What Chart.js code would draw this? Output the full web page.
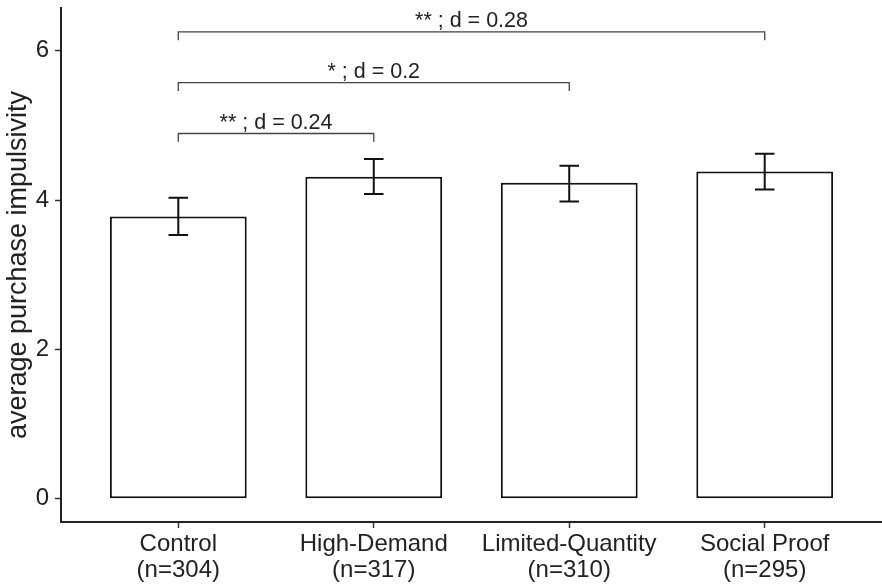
<!DOCTYPE html>
<html>
<head>
<meta charset="utf-8">
<script src="https://cdn.jsdelivr.net/npm/chart.js@4.4.1/dist/chart.umd.min.js"></script>
<style>
  html, body { margin: 0; padding: 0; background: #fff; }
  #wrap { width: 882px; height: 586px; position: relative; }
</style>
</head>
<body>
<div id="wrap"><canvas id="c"></canvas></div>
<script>
// groups and sample sizes
const groups = ['Control', 'High-Demand', 'Limited-Quantity', 'Social Proof'];
const groupN = ['(n=304)', '(n=317)', '(n=310)', '(n=295)'];
const groupPos = [1, 2, 3, 4];

// mean impulsivity and error bar ends
const means = [3.78, 4.31, 4.23, 4.38];
const errLow = [3.53, 4.08, 3.98, 4.14];
const errHigh = [4.03, 4.55, 4.46, 4.62];

const yTicks = [0, 2, 4, 6];

// significance brackets (all against Control)
const bracketFrom = [1, 1, 1];
const bracketTo = [4, 3, 2];
const bracketY = [6.25, 5.57, 4.89];
const bracketText = ['** ; d = 0.28', '* ; d = 0.2', '** ; d = 0.24'];

const FONT = "'Liberation Sans', Arial, Helvetica, sans-serif";

// error bars + brackets drawn through the chart scales
const annotPlugin = {
  id: 'annot',
  afterDatasetsDraw: function(chart) {
    const ctx = chart.ctx;
    const xs = chart.scales.x, ys = chart.scales.y;
    ctx.save();

    // error bars
    ctx.strokeStyle = '#111';
    ctx.lineWidth = 2;
    groupPos.forEach(function(p, i) {
      const x = xs.getPixelForValue(p);
      const xl = xs.getPixelForValue(p - 0.05), xr = xs.getPixelForValue(p + 0.05);
      const yl = ys.getPixelForValue(errLow[i]), yh = ys.getPixelForValue(errHigh[i]);
      ctx.beginPath();
      ctx.moveTo(x, yl); ctx.lineTo(x, yh);
      ctx.moveTo(xl, yl); ctx.lineTo(xr, yl);
      ctx.moveTo(xl, yh); ctx.lineTo(xr, yh);
      ctx.stroke();
    });

    // brackets
    ctx.strokeStyle = '#444';
    ctx.lineWidth = 1.3;
    ctx.fillStyle = '#222';
    ctx.font = '21.5px ' + FONT;
    ctx.textAlign = 'center';
    ctx.textBaseline = 'alphabetic';
    bracketY.forEach(function(b, i) {
      const x1 = xs.getPixelForValue(bracketFrom[i]);
      const x2 = xs.getPixelForValue(bracketTo[i]);
      const y = ys.getPixelForValue(b);
      const yt = ys.getPixelForValue(b - 0.11);
      ctx.beginPath();
      ctx.moveTo(x1, yt); ctx.lineTo(x1, y); ctx.lineTo(x2, y); ctx.lineTo(x2, yt);
      ctx.stroke();
      ctx.fillText(bracketText[i], (x1 + x2) / 2, y - 5);
    });
    ctx.restore();
  }
};

new Chart(document.getElementById('c'), {
  type: 'bar',
  data: {
    datasets: [{
      data: groupPos.map(function(p, i) { return { x: p, y: means[i] }; }),
      backgroundColor: '#ffffff',
      borderColor: '#111',
      borderWidth: 2,
      borderSkipped: false,
      barPercentage: 0.7,
      categoryPercentage: 1
    }]
  },
  options: {
    responsive: true,
    maintainAspectRatio: false,
    animation: false,
    layout: { padding: { top: 8, right: 0, left: 0, bottom: 0 } },
    plugins: { legend: { display: false }, tooltip: { enabled: false } },
    scales: {
      x: {
        type: 'linear',
        offset: false,
        min: 0.4,
        max: 4.6,
        afterBuildTicks: function(s) { s.ticks = groupPos.map(function(v) { return { value: v }; }); },
        afterFit: function(s) { s.height = 64; s.paddingLeft = 0; s.paddingRight = 0; },
        ticks: {
          autoSkip: false,
          maxRotation: 0,
          padding: 3,
          color: '#222',
          font: { family: FONT, size: 24, lineHeight: 1.1 },
          callback: function(v) {
            const i = groupPos.indexOf(v);
            return [groups[i], groupN[i]];
          }
        },
        grid: { offset: false, drawOnChartArea: false, drawTicks: true, tickLength: 6, tickColor: '#333', tickWidth: 1.5 },
        border: { display: true, color: '#222', width: 2 }
      },
      y: {
        min: -0.31,
        max: 6.57,
        afterBuildTicks: function(s) { s.ticks = yTicks.map(function(v) { return { value: v }; }); },
        afterFit: function(s) { s.width = 61; s.paddingTop = 0; s.paddingBottom = 0; },
        ticks: {
          padding: 6,
          color: '#222',
          font: { family: FONT, size: 24 }
        },
        title: {
          display: true,
          text: 'average purchase impulsivity',
          color: '#222',
          font: { family: FONT, size: 27 },
          padding: { top: 2, bottom: 0 }
        },
        grid: { drawOnChartArea: false, drawTicks: true, tickLength: 6, tickColor: '#333', tickWidth: 1.5 },
        border: { display: true, color: '#222', width: 2 }
      }
    }
  },
  plugins: [annotPlugin]
});
</script>
</body>
</html>
